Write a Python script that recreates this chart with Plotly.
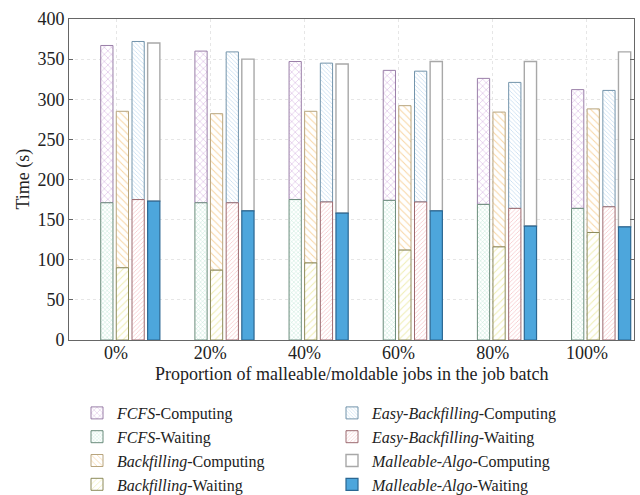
import plotly.graph_objects as go

# Job-batch composition (share of malleable/moldable jobs)
categories = ["0%", "20%", "40%", "60%", "80%", "100%"]

# Total time (waiting + computing) per scheduler, in seconds
fcfs_total = [367, 360, 347, 336, 326, 312]
fcfs_wait = [171, 171, 175, 174, 169, 164]

backfill_total = [285, 282, 285, 292, 284, 288]
backfill_wait = [90, 87, 96, 112, 116, 134]

easy_total = [372, 359, 345, 335, 321, 311]
easy_wait = [175, 171, 172, 172, 164, 166]

malleable_total = [370, 350, 344, 347, 347, 359]
malleable_wait = [173, 161, 158, 161, 142, 141]

algorithms = [
    # name, totals, waits, computing style, waiting style
    ("FCFS", fcfs_total, fcfs_wait,
     dict(shape="x", fg="#d4b2e0", size=5, line="#9a7fa8"),
     dict(shape="x", fg="#a3dcc4", size=3, line="#6b8c7c")),
    ("Backfilling", backfill_total, backfill_wait,
     dict(shape="\\", fg="#f8d6a4", size=5, line="#b8a57e"),
     dict(shape="/", fg="#f0eeb4", size=5, line="#8c8a5a")),
    ("Easy-Backfilling", easy_total, easy_wait,
     dict(shape="\\", fg="#b2d2ec", size=3, line="#7394ab"),
     dict(shape="/", fg="#f5b6ba", size=3, line="#9c6a70")),
    ("Malleable-Algo", malleable_total, malleable_wait,
     dict(shape="", fg="#ffffff", size=5, line="#a8a8a8"),
     dict(shape="", fg="#4da6dc", size=5, line="#2b6792", solid=True)),
]

FONT = "Liberation Serif"
W, H = 640, 495
M_L, M_R, M_T, M_B = 69, 6, 19, 155
PLOT_W = W - M_L - M_R
PLOT_H = H - M_T - M_B
bar_w = 0.13
offsets = [-0.098, 0.067, 0.234, 0.400]
xs = list(range(len(categories)))

fig = go.Figure()


def pattern_marker(st):
    if st.get("solid"):
        return dict(color=st["fg"], line=dict(color=st["line"], width=1.2))
    if st["shape"] == "":
        return dict(color="white", line=dict(color=st["line"], width=1.4))
    return dict(
        color="white",
        line=dict(color=st["line"], width=1.0),
        pattern=dict(shape=st["shape"], fgcolor=st["fg"], bgcolor="white",
                     size=st["size"], solidity=0.2, fillmode="replace"),
    )


for k, (name, totals, waits, cst, wst) in enumerate(algorithms):
    x = [i + offsets[k] for i in xs]
    computing = [t - w for t, w in zip(totals, waits)]
    legend_id = "legend" if k < 2 else "legend2"
    label = f"<i>{name}</i>"
    fig.add_trace(go.Bar(
        x=x, y=computing, base=waits, width=bar_w,
        name=f"{label}-Computing", marker=pattern_marker(cst),
        legend=legend_id, legendgroup=f"{name}c", legendrank=2 * k + 1,
    ))
    fig.add_trace(go.Bar(
        x=x, y=waits, base=[0] * len(waits), width=bar_w,
        name=f"{label}-Waiting", marker=pattern_marker(wst),
        legend=legend_id, legendgroup=f"{name}w", legendrank=2 * k + 2,
    ))

legend_common = dict(
    xref="container", yref="container", yanchor="top", xanchor="left",
    font=dict(family=FONT, size=16, color="#222"),
    traceorder="grouped", tracegroupgap=0, bgcolor="rgba(0,0,0,0)",
)

fig.update_layout(
    width=W, height=H,
    margin=dict(l=M_L, r=M_R, t=M_T, b=M_B, autoexpand=False),
    barmode="overlay",
    plot_bgcolor="white", paper_bgcolor="white",
    font=dict(family=FONT, size=18, color="#222"),
    showlegend=True,
    legend=dict(x=77 / W, y=1 - 396 / H, **legend_common),
    legend2=dict(x=332 / W, y=1 - 396 / H, **legend_common),
    xaxis=dict(
        range=[-0.5, 5.5], tickmode="array", tickvals=xs, ticktext=categories,
        showline=True, linecolor="#666", linewidth=1, mirror=True,
        showgrid=True, gridcolor="#e6e6e6", griddash="dot", gridwidth=1,
        ticks="", zeroline=False, automargin=False, ticklabelstandoff=-4,
        tickfont=dict(size=18),
    ),
    yaxis=dict(
        range=[0, 400], tickmode="linear", tick0=0, dtick=50,
        showline=True, linecolor="#666", linewidth=1, mirror="ticks",
        ticks="inside", ticklen=4, tickcolor="#666",
        showgrid=True, gridcolor="#e6e6e6", griddash="dot", gridwidth=1,
        zeroline=False, automargin=False,
        tickfont=dict(size=18),
    ),
    annotations=[
        dict(text="Proportion of malleable/moldable jobs in the job batch",
             xref="paper", yref="paper", x=0.5,
             y=(H - M_B - 374) / PLOT_H,
             xanchor="center", yanchor="middle", showarrow=False,
             font=dict(family=FONT, size=18, color="#222")),
        dict(text="Time (s)", textangle=-90,
             xref="paper", yref="paper", x=(23 - M_L) / PLOT_W, y=0.5,
             xanchor="center", yanchor="middle", showarrow=False,
             font=dict(family=FONT, size=18, color="#222")),
    ],
)

fig.write_html("out.html")
